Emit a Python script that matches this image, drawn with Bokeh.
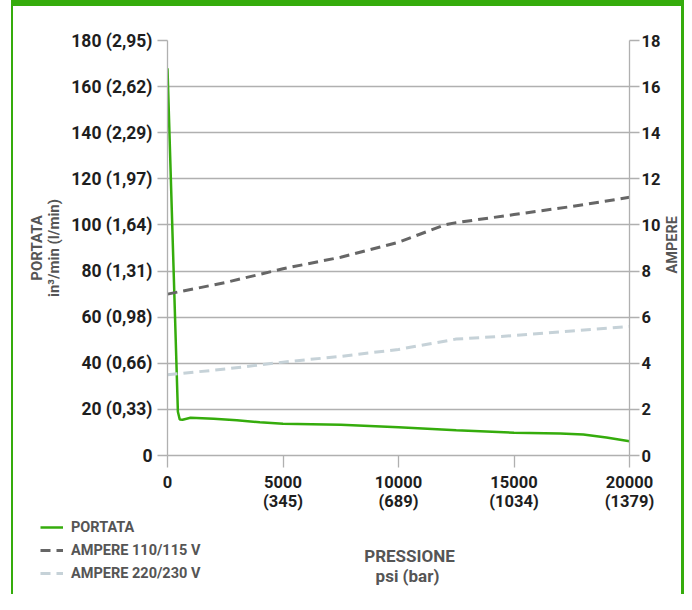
import math
from bokeh.plotting import figure
from bokeh.models import Range1d, LinearAxis, FixedTicker, Legend, LegendItem, Div, Label
from bokeh.layouts import row, column
from bokeh.embed import file_html
from bokeh.resources import INLINE

# ---- data ----
pressure_portata = [0, 450, 530, 650, 1000, 2000, 3000, 4000, 5000, 7500, 10000, 12500, 15000, 17000, 18000, 19000, 20000]
portata = [168, 19, 15.6, 15.5, 16.4, 15.9, 15.3, 14.4, 13.8, 13.3, 12.2, 11.0, 9.9, 9.5, 9.1, 7.8, 6.2]

pressure_a110 = [0, 2500, 5000, 7500, 10000, 12000, 12500, 15000, 17500, 20000]
ampere_110 = [7.0, 7.5, 8.1, 8.6, 9.25, 10.0, 10.1, 10.45, 10.8, 11.2]

pressure_a220 = [0, 2500, 5000, 7500, 10000, 12500, 15000, 17500, 20000]
ampere_220 = [3.5, 3.75, 4.05, 4.3, 4.6, 5.05, 5.2, 5.4, 5.6]

x_ticks = [0, 5000, 10000, 15000, 20000]
x_tick_labels = ["0", "5000\n(345)", "10000\n(689)", "15000\n(1034)", "20000\n(1379)"]
y_ticks = [0, 20, 40, 60, 80, 100, 120, 140, 160, 180]
y_tick_labels = ["0", "20 (0,33)", "40 (0,66)", "60 (0,98)", "80 (1,31)", "100 (1,64)",
                 "120 (1,97)", "140 (2,29)", "160 (2,62)", "180 (2,95)"]
amp_ticks = [0, 2, 4, 6, 8, 10, 12, 14, 16, 18]
series_names = ["PORTATA", "AMPERE 110/115 V", "AMPERE 220/230 V"]
x_title = ["PRESSIONE", "psi (bar)"]
right_title = "AMPERE"

GREEN = "#35ac0c"
DARK = "#666666"
LIGHT = "#c6d2d8"
GRID = "#b0b0b0"
TICK_TXT = "#1e1e1e"
TITLE_TXT = "#555555"
FONT = "Roboto"

# ---- layout sizes ----
SPACER_W, BAR_L, BAR_R, BAR_T = 11, 2, 3, 6
C = 668                 # content width (between the green bars)
H1 = 512                # main chart height
H2 = 76                 # bottom strip (legend + x title)
C1 = 650                # main chart width
C2 = C - C1             # strip for right axis title
TOTAL_H = BAR_T + H1 + H2

p = figure(width=C1, height=H1, output_backend="svg", toolbar_location=None,
           x_range=Range1d(0, 20000), y_range=Range1d(0, 180),
           min_border_left=154, min_border_top=34, min_border_right=33, min_border_bottom=63)
p.outline_line_color = None
p.background_fill_color = "white"
p.border_fill_color = "white"
p.extra_y_ranges = {"amp": Range1d(0, 18)}


def style_axis(ax):
    ax.axis_line_color = GRID
    ax.axis_line_width = 1.3
    ax.major_tick_line_color = GRID
    ax.major_tick_line_width = 1.3
    ax.major_tick_in = 0
    ax.minor_tick_line_color = None
    ax.major_label_text_font = FONT
    ax.major_label_text_font_style = "bold"
    ax.major_label_text_color = TICK_TXT
    ax.axis_label_text_font = FONT
    ax.axis_label_text_font_style = "bold"
    ax.axis_label_text_color = TITLE_TXT


xa = p.xaxis[0]
style_axis(xa)
xa.ticker = FixedTicker(ticks=x_ticks)
xa.major_label_overrides = dict(zip(x_ticks, x_tick_labels))
xa.major_tick_out = 12
xa.major_label_text_font_size = "16.5px"
xa.major_label_text_line_height = 1.05
xa.major_label_standoff = 5

ya = p.yaxis[0]
style_axis(ya)
ya.ticker = FixedTicker(ticks=y_ticks)
ya.major_label_overrides = dict(zip(y_ticks, y_tick_labels))
ya.major_tick_out = 10
ya.major_label_text_font_size = "17.5px"
ya.major_label_standoff = 5
ya.axis_label = "PORTATA\nin³/min (l/min)"
ya.axis_label_text_font_size = "15px"
ya.axis_label_text_line_height = 0.95
ya.axis_label_standoff = 5

ra = LinearAxis(y_range_name="amp", ticker=FixedTicker(ticks=amp_ticks))
style_axis(ra)
ra.major_tick_out = 10
ra.major_label_text_font_size = "16.5px"
ra.major_label_standoff = 2
p.add_layout(ra, "right")

p.xgrid.visible = False
p.ygrid.ticker = FixedTicker(ticks=y_ticks)
p.ygrid.grid_line_color = GRID
p.ygrid.grid_line_width = 1.3

p.line(pressure_portata, portata, line_color=GREEN, line_width=2.5)
p.line(pressure_a110, ampere_110, line_color=DARK, line_width=3,
       line_dash="10 6", y_range_name="amp")
p.line(pressure_a220, ampere_220, line_color=LIGHT, line_width=3,
       line_dash="10 6", y_range_name="amp")


def strip(w, h):
    f = figure(width=w, height=h, output_backend="svg", toolbar_location=None,
               x_range=Range1d(0, w), y_range=Range1d(h, 0),
               x_axis_location=None, y_axis_location=None,
               min_border_left=0, min_border_right=0, min_border_top=0, min_border_bottom=0)
    f.outline_line_color = None
    f.background_fill_color = "white"
    f.border_fill_color = "white"
    f.grid.visible = False
    return f


# ---- right strip: AMPERE title (reads bottom to top) ----
pr = strip(C2, H1)
pr.add_layout(Label(x=9, y=252, text=right_title, angle=math.pi / 2,
                    text_align="center", text_baseline="middle", text_font=FONT,
                    text_font_style="bold", text_font_size="14.5px", text_color=TITLE_TXT))

# ---- bottom strip: legend and x-axis title ----
p2 = strip(C, H2)
# legend proxies: same series, mapped to a range far outside the visible strip
p2.extra_y_ranges = {"hidden": Range1d(-5000, -4000)}
p2.extra_x_ranges = {"hidden": Range1d(-5000, -4000)}
g1 = p2.line(pressure_portata, portata, line_color=GREEN, line_width=2.5,
             x_range_name="hidden", y_range_name="hidden")
g2 = p2.line(pressure_a110, ampere_110, line_color=DARK, line_width=3, line_dash="10 6",
             x_range_name="hidden", y_range_name="hidden")
g3 = p2.line(pressure_a220, ampere_220, line_color=LIGHT, line_width=3, line_dash="10 6",
             x_range_name="hidden", y_range_name="hidden")

legend = Legend(items=[LegendItem(label=series_names[0], renderers=[g1]),
                       LegendItem(label=series_names[1], renderers=[g2]),
                       LegendItem(label=series_names[2], renderers=[g3])],
                location=(27, 11), orientation="vertical",
                background_fill_alpha=0, border_line_color=None,
                padding=0, margin=0, spacing=3,
                glyph_width=23, glyph_height=20, label_height=20, label_standoff=8,
                label_text_font=FONT, label_text_font_style="bold",
                label_text_font_size="14.5px", label_text_color=TITLE_TXT)
p2.add_layout(legend, "center")

p2.add_layout(Label(x=396, y=37.7, text=x_title[0], text_align="center",
                    text_baseline="alphabetic", text_font=FONT, text_font_style="bold",
                    text_font_size="17px", text_color=TITLE_TXT))
p2.add_layout(Label(x=394, y=57, text=x_title[1], text_align="center",
                    text_baseline="alphabetic", text_font=FONT, text_font_style="bold",
                    text_font_size="17px", text_color=TITLE_TXT))

# ---- green frame ----
spacer = Div(width=SPACER_W, height=TOTAL_H, margin=0, styles={"background-color": "white"})
bar_l = Div(width=BAR_L, height=TOTAL_H, margin=0, styles={"background-color": GREEN})
bar_r = Div(width=BAR_R, height=TOTAL_H, margin=0, styles={"background-color": GREEN})
bar_t = Div(width=C, height=BAR_T, margin=0, styles={"background-color": GREEN})

layout = row(spacer, bar_l,
             column(bar_t, row(p, pr, spacing=0), p2, spacing=0),
             bar_r, spacing=0)

open("out.html", "w").write(file_html(layout, INLINE))
